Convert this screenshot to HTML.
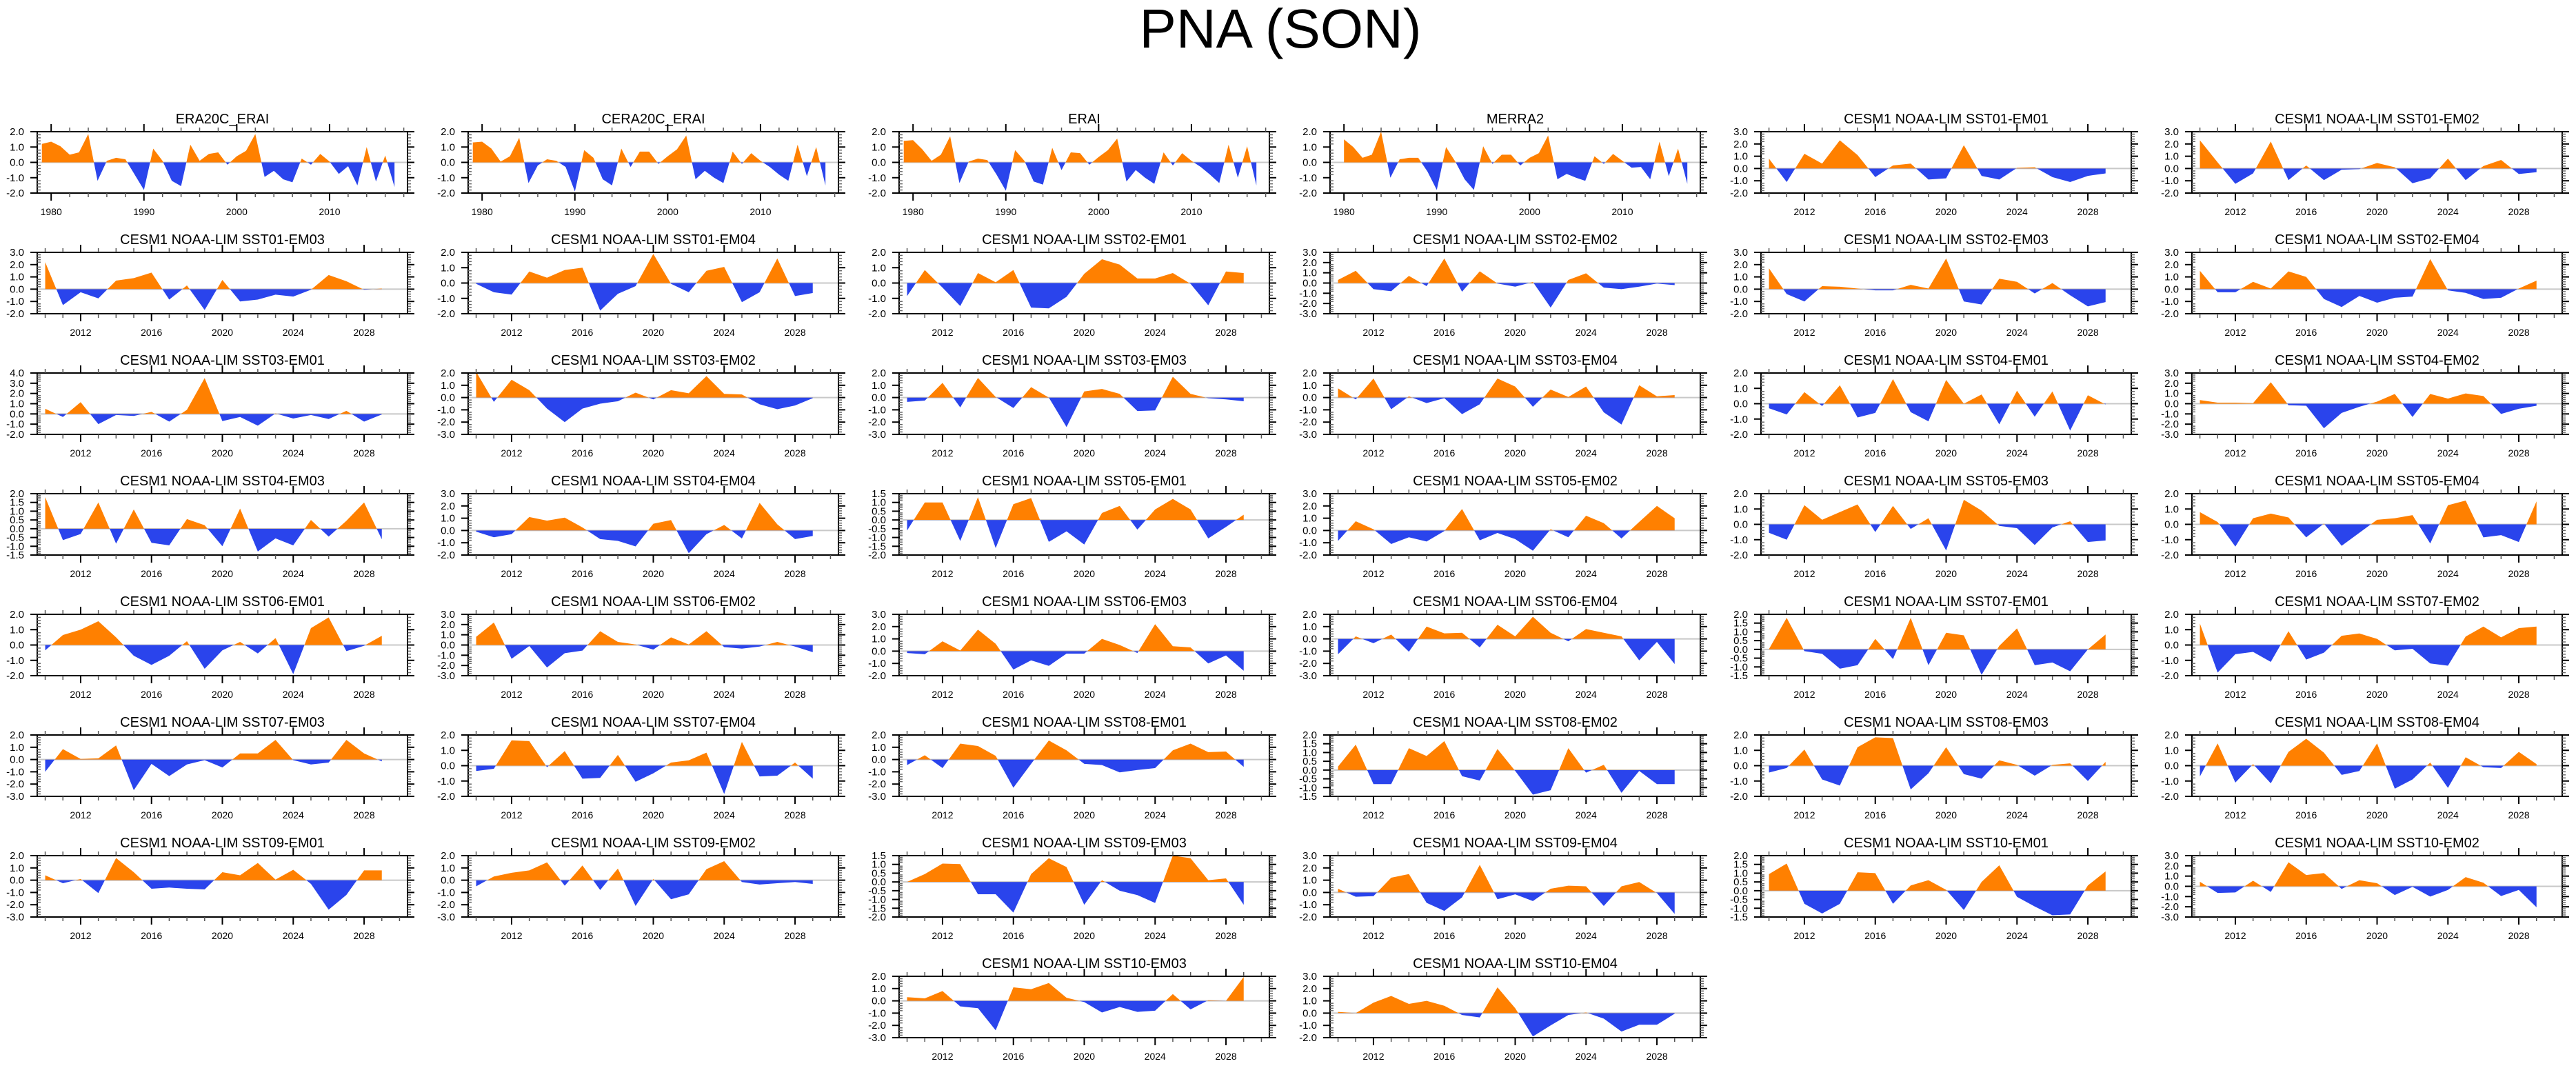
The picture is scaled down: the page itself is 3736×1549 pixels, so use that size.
<!DOCTYPE html>
<html><head><meta charset="utf-8"><title>PNA (SON)</title>
<style>
html,body{margin:0;padding:0;background:#fff;}
svg{display:block;font-family:"Liberation Sans",Arial,sans-serif;}
</style></head>
<body>
<svg id="chart" width="3736" height="1549" viewBox="0 0 3736 1549" xmlns="http://www.w3.org/2000/svg">
<rect width="3736" height="1549" fill="#fff"/>
<text x="1857" y="69" font-size="80" text-anchor="middle" fill="#000">PNA (SON)</text>
</svg>
<script>
// ---- data ----
const era20cYears = [1979, 2017];
const era20c = [1.2,1.35,1.05,0.5,0.65,1.85,-1.2,0.1,0.3,0.2,-0.8,-1.8,0.9,0.1,-1.2,-1.55,1.15,0.1,0.55,0.65,-0.15,0.4,0.75,1.85,-0.95,-0.55,-1.1,-1.3,0.25,-0.15,0.55,0.05,-0.75,-0.25,-1.5,1.0,-1.25,0.45,-1.6];
const cera20c = [1.3,1.35,0.9,0.05,0.4,1.6,-1.35,-0.2,0.2,0.1,-0.3,-1.9,0.8,0.3,-1.1,-1.5,0.9,-0.3,0.7,0.7,-0.1,0.4,0.85,1.75,-1.1,-0.55,-1.0,-1.35,0.7,-0.1,0.6,0.1,-0.3,-0.8,-1.2,1.15,-0.9,1.0,-1.5];
const erai = [1.4,1.45,0.85,0.1,0.5,1.7,-1.35,0.05,0.25,0.15,-0.8,-1.85,0.8,0.1,-1.25,-1.45,0.95,-0.5,0.65,0.6,-0.15,0.35,0.8,1.55,-1.25,-0.5,-1.0,-1.4,0.65,-0.2,0.6,0.1,-0.3,-0.8,-1.35,1.15,-1.0,1.05,-1.5];
const merra2Years = [1980, 2017];
const merra2 = [1.5,1.0,0.3,0.5,2.0,-1.0,0.2,0.3,0.3,-0.6,-1.8,1.0,0.05,-1.1,-1.8,1.05,-0.1,0.5,0.5,-0.2,0.3,0.6,1.75,-1.1,-0.75,-1.0,-1.2,0.4,-0.1,0.55,0.1,-0.35,-0.3,-1.1,1.35,-0.9,0.9,-1.4];
const modelYears = [2010, 2029];
const s01e01 = [0.8,-1.1,1.2,0.4,2.3,1.1,-0.7,0.25,0.4,-0.9,-0.8,1.9,-0.6,-0.9,0.05,0.1,-0.7,-1.1,-0.6,-0.4];
const s01e02 = [2.3,0.5,-1.25,-0.4,2.2,-0.95,0.25,-0.95,-0.1,-0.05,0.45,0.1,-1.2,-0.8,0.8,-0.95,0.2,0.7,-0.45,-0.3];
const s01e03 = [2.2,-1.3,-0.25,-0.75,0.7,0.9,1.35,-0.85,0.3,-1.7,0.75,-1.0,-0.85,-0.45,-0.6,-0.05,1.15,0.65,-0.05,0.05];
const s01e04 = [-0.05,-0.6,-0.75,0.75,0.35,0.85,1.0,-1.8,-0.7,-0.2,1.9,-0.05,-0.6,0.8,1.05,-1.25,-0.6,1.6,-0.85,-0.65];
const s02e01 = [-0.85,0.85,-0.3,-1.5,0.65,0.05,0.85,-1.6,-1.65,-0.9,0.6,1.55,1.2,0.3,0.3,0.65,-0.05,-1.45,0.75,0.65];
const s02e02 = [0.3,1.2,-0.6,-0.8,0.7,-0.3,2.4,-0.85,1.15,-0.05,-0.35,0.1,-2.4,0.3,0.95,-0.45,-0.6,-0.35,-0.05,-0.2];
const s02e03 = [1.7,-0.4,-1.0,0.25,0.2,0.05,-0.1,-0.1,0.35,0.05,2.5,-1.0,-1.25,0.85,0.6,-0.35,0.5,-0.5,-1.4,-1.05];
const s02e04 = [1.5,-0.25,-0.25,0.6,0.05,1.45,1.0,-0.8,-1.45,-0.55,-1.1,-0.7,-0.6,2.45,-0.1,-0.3,-0.8,-0.7,0.05,0.7];
const s03e01 = [0.5,-0.3,1.15,-1.0,-0.1,-0.2,0.2,-0.75,0.4,3.5,-0.7,-0.3,-1.15,0.05,-0.45,-0.1,-0.5,0.3,-0.75,-0.05];
const s03e02 = [2.1,-0.35,1.45,0.6,-0.9,-2.0,-0.9,-0.5,-0.3,0.4,-0.15,0.6,0.35,1.75,0.3,0.25,-0.55,-0.95,-0.65,-0.05];
const s03e03 = [-0.35,-0.25,1.2,-0.8,1.6,0.05,-0.85,0.85,0.0,-2.4,0.5,0.7,0.3,-1.1,-1.05,1.7,0.3,-0.05,-0.15,-0.3];
const s03e04 = [0.75,-0.15,1.55,-0.95,0.1,-0.45,-0.05,-1.35,-0.55,1.55,0.9,-0.75,0.65,0.05,0.9,-1.2,-2.2,1.0,0.1,0.2];
const s04e01 = [-0.3,-0.7,0.75,-0.15,1.2,-0.9,-0.6,1.6,-0.55,-1.15,1.55,0.0,0.6,-1.35,0.85,-0.85,0.8,-1.75,0.55,-0.05];
const s04e02 = [0.35,0.1,0.1,0.05,2.1,-0.15,-0.2,-2.4,-0.9,-0.3,0.2,0.95,-1.3,0.95,0.5,1.0,0.75,-1.0,-0.5,-0.2];
const s04e03 = [1.8,-0.65,-0.3,1.5,-0.85,1.1,-0.8,-0.95,0.55,0.2,-1.0,1.15,-1.3,-0.55,-0.95,0.5,-0.45,0.45,1.5,-0.6];
const s04e04 = [-0.1,-0.55,-0.3,1.1,0.8,1.05,0.25,-0.7,-0.85,-1.3,0.55,0.85,-1.85,-0.3,0.45,-0.65,2.25,0.5,-0.7,-0.45];
const s05e01 = [-0.6,1.0,1.0,-1.2,1.3,-1.6,0.9,1.25,-1.25,-0.65,-1.4,0.4,0.8,-0.55,0.6,1.2,0.6,-1.05,-0.4,0.3];
const s05e02 = [-0.85,0.75,0.1,-1.1,-0.55,-0.9,-0.05,1.75,-0.8,-0.2,-0.7,-1.65,0.1,-0.55,1.2,0.6,-0.65,0.7,2.0,1.0];
const s05e03 = [-0.55,-1.0,1.25,0.3,0.8,1.3,-0.5,1.2,-0.3,0.4,-1.7,1.6,0.9,-0.1,-0.25,-1.35,-0.2,0.2,-1.15,-1.05];
const s05e04 = [0.8,0.15,-1.45,0.4,0.7,0.45,-0.85,0.05,-1.4,-0.55,0.3,0.4,0.6,-1.25,1.25,1.55,-0.85,-0.7,-1.15,1.5];
const s06e01 = [-0.35,0.65,1.0,1.55,0.5,-0.7,-1.3,-0.7,0.25,-1.55,-0.35,0.2,-0.55,0.45,-1.9,1.1,1.8,-0.4,-0.05,0.6];
const s06e02 = [0.8,2.2,-1.35,-0.1,-2.2,-0.8,-0.55,1.35,0.3,0.05,-0.45,0.75,0.05,1.35,-0.2,-0.35,-0.15,0.3,-0.15,-0.7];
const s06e03 = [-0.15,-0.25,0.8,0.05,1.75,0.6,-1.5,-0.75,-1.2,-0.2,-0.2,1.0,0.5,-0.15,2.2,0.4,0.3,-1.0,-0.35,-1.6];
const s06e04 = [-1.25,0.2,-0.35,0.35,-1.05,1.0,0.45,0.5,-0.7,1.15,0.2,1.8,0.5,-0.2,0.8,0.5,0.2,-1.75,-0.25,-2.05];
const s07e01 = [0.02,1.8,-0.1,-0.25,-1.1,-0.9,0.6,-0.55,1.8,-0.9,0.95,0.8,-1.45,0.2,1.2,-0.9,-0.75,-1.25,0.0,0.85];
const s07e02 = [1.4,-1.8,-0.6,-0.45,-1.1,0.9,-0.95,-0.5,0.6,0.75,0.4,-0.35,-0.25,-1.2,-1.35,0.55,1.2,0.5,1.1,1.2];
const s07e03 = [-1.0,0.85,0.05,0.1,1.15,-2.5,-0.35,-1.35,-0.4,-0.05,-0.65,0.5,0.5,1.6,-0.05,-0.4,-0.25,1.6,0.5,-0.15];
const s07e04 = [-0.35,-0.2,1.65,1.6,-0.1,0.95,-0.85,-0.8,0.7,-1.05,-0.5,0.2,0.35,0.85,-1.85,1.55,-0.7,-0.65,0.2,-0.85];
const s08e01 = [-0.45,0.35,-0.7,1.3,1.1,0.3,-2.3,-0.35,1.55,0.75,-0.35,-0.45,-1.05,-0.85,-0.7,0.75,1.3,0.6,0.65,-0.6];
const s08e02 = [0.2,1.45,-0.8,-0.8,1.25,0.8,1.65,-0.35,-0.6,1.2,-0.05,-1.4,-1.15,1.25,-0.15,0.3,-1.3,-0.05,-0.8,-0.8];
const s08e03 = [-0.45,-0.15,1.05,-0.9,-1.3,1.2,1.85,1.8,-1.55,-0.5,1.2,-0.55,-0.85,0.35,0.05,-0.65,0.05,0.15,-1.0,0.25];
const s08e04 = [-0.7,1.45,-1.1,0.1,-1.15,0.9,1.75,0.85,-0.6,-0.35,1.45,-1.5,-0.9,0.2,-1.45,0.55,-0.1,-0.15,0.9,0.1];
const s09e01 = [0.4,-0.25,0.1,-1.05,1.8,0.65,-0.7,-0.6,-0.7,-0.75,0.65,0.4,1.4,0.05,0.85,-0.3,-2.4,-1.2,0.8,0.8];
const s09e02 = [-0.5,0.3,0.6,0.8,1.45,-0.45,1.2,-0.8,0.95,-2.1,0.1,-1.55,-1.15,0.9,1.55,-0.15,-0.35,-0.25,-0.15,-0.3];
const s09e03 = [0.0,0.45,1.05,1.02,-0.7,-0.7,-1.75,0.45,1.35,0.85,-1.3,0.1,-0.5,-0.75,-1.2,1.5,1.35,0.1,0.2,-1.3];
const s09e04 = [0.3,-0.35,-0.3,1.2,1.5,-0.85,-1.5,-0.4,2.25,-0.55,-0.15,-0.7,0.3,0.55,0.5,-1.1,0.5,0.85,-0.05,-1.75];
const s10e01 = [0.95,1.55,-0.75,-1.3,-0.75,1.05,1.0,-0.75,0.3,0.6,0.05,-1.1,0.5,1.45,-0.35,-0.9,-1.4,-1.35,0.3,1.1];
const s10e02 = [0.45,-0.65,-0.6,0.55,-0.55,2.35,1.1,1.3,-0.25,0.6,0.3,-0.85,-0.05,-1.0,-0.35,0.9,0.35,-0.95,-0.35,-2.05];
const s10e03 = [0.3,0.2,0.8,-0.45,-0.6,-2.4,1.1,0.95,1.45,0.25,-0.1,-0.95,-0.5,-0.9,-0.8,0.55,-0.7,0.05,0.0,1.95];
const s10e04 = [0.1,0.0,0.85,1.4,0.75,1.0,0.6,-0.15,-0.35,2.1,0.4,-1.9,-1.0,-0.15,0.05,-0.45,-1.5,-0.95,-0.95,-0.05];

// panel titles, y-ranges [min,max,step], grid position [row,col]
const panelTitles = ["ERA20C_ERAI","CERA20C_ERAI","ERAI","MERRA2",
 "CESM1 NOAA-LIM SST01-EM01","CESM1 NOAA-LIM SST01-EM02","CESM1 NOAA-LIM SST01-EM03","CESM1 NOAA-LIM SST01-EM04",
 "CESM1 NOAA-LIM SST02-EM01","CESM1 NOAA-LIM SST02-EM02","CESM1 NOAA-LIM SST02-EM03","CESM1 NOAA-LIM SST02-EM04",
 "CESM1 NOAA-LIM SST03-EM01","CESM1 NOAA-LIM SST03-EM02","CESM1 NOAA-LIM SST03-EM03","CESM1 NOAA-LIM SST03-EM04",
 "CESM1 NOAA-LIM SST04-EM01","CESM1 NOAA-LIM SST04-EM02","CESM1 NOAA-LIM SST04-EM03","CESM1 NOAA-LIM SST04-EM04",
 "CESM1 NOAA-LIM SST05-EM01","CESM1 NOAA-LIM SST05-EM02","CESM1 NOAA-LIM SST05-EM03","CESM1 NOAA-LIM SST05-EM04",
 "CESM1 NOAA-LIM SST06-EM01","CESM1 NOAA-LIM SST06-EM02","CESM1 NOAA-LIM SST06-EM03","CESM1 NOAA-LIM SST06-EM04",
 "CESM1 NOAA-LIM SST07-EM01","CESM1 NOAA-LIM SST07-EM02","CESM1 NOAA-LIM SST07-EM03","CESM1 NOAA-LIM SST07-EM04",
 "CESM1 NOAA-LIM SST08-EM01","CESM1 NOAA-LIM SST08-EM02","CESM1 NOAA-LIM SST08-EM03","CESM1 NOAA-LIM SST08-EM04",
 "CESM1 NOAA-LIM SST09-EM01","CESM1 NOAA-LIM SST09-EM02","CESM1 NOAA-LIM SST09-EM03","CESM1 NOAA-LIM SST09-EM04",
 "CESM1 NOAA-LIM SST10-EM01","CESM1 NOAA-LIM SST10-EM02","CESM1 NOAA-LIM SST10-EM03","CESM1 NOAA-LIM SST10-EM04"];
const panelSeries = [era20c,cera20c,erai,merra2,s01e01,s01e02,s01e03,s01e04,s02e01,s02e02,s02e03,s02e04,
 s03e01,s03e02,s03e03,s03e04,s04e01,s04e02,s04e03,s04e04,s05e01,s05e02,s05e03,s05e04,
 s06e01,s06e02,s06e03,s06e04,s07e01,s07e02,s07e03,s07e04,s08e01,s08e02,s08e03,s08e04,
 s09e01,s09e02,s09e03,s09e04,s10e01,s10e02,s10e03,s10e04];
const panelYMin = [-2,-2,-2,-2,-2,-2, -2,-2,-2,-3,-2,-2, -2,-3,-3,-3,-2,-3, -1.5,-2,-2,-2,-2,-2, -2,-3,-2,-3,-1.5,-2, -3,-2,-3,-1.5,-2,-2, -3,-3,-2,-2,-1.5,-3, -3,-2];
const panelYMax = [2,2,2,2,3,3, 3,2,2,3,3,3, 4,2,2,2,2,3, 2,3,1.5,3,2,2, 2,3,3,2,2,2, 2,2,2,2,2,2, 2,2,1.5,3,2,3, 2,3];
const panelYStep = [1,1,1,1,1,1, 1,1,1,1,1,1, 1,1,1,1,1,1, 0.5,1,0.5,1,1,1, 1,1,1,1,0.5,1, 1,1,1,0.5,1,1, 1,1,0.5,1,0.5,1, 1,1];
const reanalysisTicks = ["1980","1990","2000","2010"];
const modelTicks = ["2012","2016","2020","2024","2028"];

// ---- drawing ----
const NS = "http://www.w3.org/2000/svg";
const svg = document.getElementById("chart");
const ORANGE = "#ff8000", BLUE = "#2a44ec";
function mk(tag, attrs, parent) {
  const e = document.createElementNS(NS, tag);
  for (const k in attrs) e.setAttribute(k, attrs[k]);
  (parent || svg).appendChild(e);
  return e;
}
function line(g, x1, y1, x2, y2, w, c) {
  const l = mk("line", {x1:x1, y1:y1, x2:x2, y2:y2, stroke:c||"#000", "stroke-width":w}, g);
  
  
  return l;
}
const W = 537, H = 89;

panelTitles.forEach(function(title, i) {
  let row, col;
  if (i < 42) { row = Math.floor(i / 6); col = i % 6; } else { row = 7; col = i - 40; }
  const L = 54 + 625 * col, T = 191 + 175 * row;
  const isRe = i < 4;
  const vals = panelSeries[i];
  const startYear = (i === 3) ? merra2Years[0] : (isRe ? era20cYears[0] : modelYears[0]);
  const xr = isRe ? [1978.5, 2018.4] : [2009.55, 2030.45];
  const yMin = panelYMin[i], yMax = panelYMax[i], yStep = panelYStep[i];
  const xs = function(yr) { return L + (yr - xr[0]) / (xr[1] - xr[0]) * W; };
  const ys = function(v) { return T + (yMax - v) / (yMax - yMin) * H; };
  const slug = title.toLowerCase().replace(/[^a-z0-9]+/g, "-");

  const g = mk("g", {});
  
  

  const t = mk("text", {x: L + W / 2, y: T - 12, "font-size": 20, "text-anchor": "middle"}, g);
  
  
  t.textContent = title;

  // zero line
  const z = ys(0);
  const zl = mk("line", {x1:L, x2:L+W, y1:z, y2:z, stroke:"#c8c8c8", "stroke-width":2}, g);
  
  

  // area fill
  const cid = "c" + i;
  const defs = mk("defs", {}, g);
  const cpA = mk("clipPath", {id: cid + "a"}, defs);
  mk("rect", {x:L, y:T, width:W, height:z - T}, cpA);
  const cpB = mk("clipPath", {id: cid + "b"}, defs);
  mk("rect", {x:L, y:z, width:W, height:T + H - z}, cpB);
  let pts = xs(startYear).toFixed(2) + "," + z.toFixed(2) + " ";
  vals.forEach(function(v, k) { pts += xs(startYear + k).toFixed(2) + "," + ys(v).toFixed(2) + " "; });
  pts += xs(startYear + vals.length - 1).toFixed(2) + "," + z.toFixed(2);
  const pa = mk("polygon", {points: pts, fill: ORANGE, "clip-path": "url(#" + cid + "a)"}, g);
  
  
  const pb = mk("polygon", {points: pts, fill: BLUE, "clip-path": "url(#" + cid + "b)"}, g);
  
  

  // frame
  const fr = mk("rect", {x:L, y:T, width:W, height:H, fill:"none", stroke:"#000", "stroke-width":2}, g);
  
  

  // y ticks
  const nMaj = Math.round((yMax - yMin) / yStep);
  for (let k = 0; k <= nMaj; k++) {
    const v = yMin + k * yStep, y = ys(v);
    line(g, L - 10, y, L, y, 2);
    line(g, L + W, y, L + W + 10, y, 2);
    const lab = mk("text", {x: L - 19, y: y + 5, "font-size": 15, "text-anchor": "end"}, g);
    
    
    lab.textContent = v.toFixed(1);
    if (k < nMaj) {
      for (let m = 1; m < 5; m++) {
        const ym = ys(v + m * yStep / 5);
        line(g, L, ym, L + 5, ym, 1.5, "#666");
        line(g, L + W, ym, L + W + 5, ym, 1.5, "#666");
      }
    }
  }

  // x ticks
  const minorStep = isRe ? 2 : 1;
  for (let yr = Math.ceil(xr[0]); yr <= xr[1]; yr++) {
    const x = xs(yr);
    const lbls = isRe ? reanalysisTicks : modelTicks;
    const isMaj = lbls.indexOf(String(yr)) >= 0;
    if (isMaj) {
      line(g, x, T - 11, x, T, 2);
      line(g, x, T + H, x, T + H + 11, 2);
      const yl = mk("text", {x: x, y: T + H + 32, "font-size": 14, "text-anchor": "middle"}, g);
      
      
      yl.textContent = String(yr);
    } else if (yr % minorStep === 0) {
      line(g, x, T - 6, x, T, 1.5, "#555");
      line(g, x, T + H, x, T + H + 6, 1.5, "#555");
    }
  }
});
</script>
</body></html>
